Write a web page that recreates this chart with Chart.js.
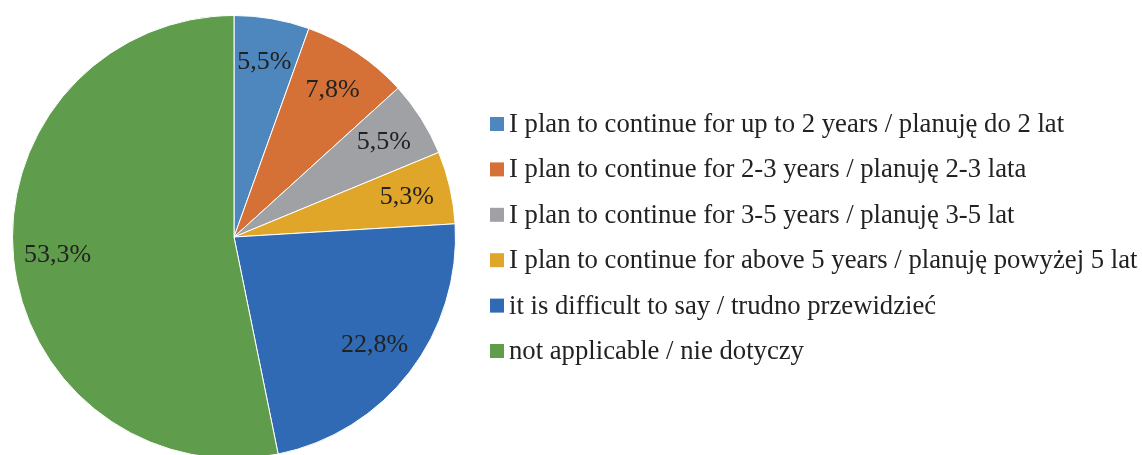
<!DOCTYPE html>
<html>
<head>
<meta charset="utf-8">
<script src="https://cdn.jsdelivr.net/npm/chart.js@4"></script>
<style>
  html, body { margin: 0; padding: 0; background: #fff; overflow: hidden; }
  #wrap { position: relative; width: 1142px; height: 455px; overflow: hidden; }
</style>
</head>
<body>
<div id="wrap">
  <canvas id="pieChart" width="1142" height="470"></canvas>
</div>
<script>
const categories = [
  'I plan to continue for up to 2 years / planuję do 2 lat',
  'I plan to continue for 2-3 years / planuję 2-3 lata',
  'I plan to continue for 3-5 years / planuję 3-5 lat',
  'I plan to continue for above 5 years / planuję powyżej 5 lat',
  'it is difficult to say / trudno przewidzieć',
  'not applicable / nie dotyczy'
];
const shares = [5.5, 7.8, 5.5, 5.3, 22.8, 53.3];
const colors = ['#4e86be', '#d57137', '#a0a1a5', '#e0a629', '#3069b4', '#5f9d4c'];

const FONT = '"Liberation Serif", "Times New Roman", serif';

// percentage labels inside slices
const sliceLabels = {
  id: 'sliceLabels',
  afterDatasetsDraw(chart) {
    const ctx = chart.ctx;
    const meta = chart.getDatasetMeta(0);
    ctx.save();
    ctx.font = '26px ' + FONT;
    ctx.fillStyle = '#222';
    ctx.textAlign = 'center';
    ctx.textBaseline = 'middle';
    meta.data.forEach((arc, i) => {
      const mid = (arc.startAngle + arc.endAngle) / 2;
      const r = arc.outerRadius * 0.8;
      const x = arc.x + Math.cos(mid) * r;
      const y = arc.y + Math.sin(mid) * r;
      ctx.fillText(shares[i].toFixed(1).replace('.', ',') + '%', x, y);
    });
    ctx.restore();
  }
};

// legend on the right side
const sideLegend = {
  id: 'sideLegend',
  afterDraw(chart) {
    const ctx = chart.ctx;
    ctx.save();
    ctx.font = '26.7px ' + FONT;
    ctx.textBaseline = 'middle';
    categories.forEach((label, i) => {
      const y = 124 + i * 45.4;
      ctx.fillStyle = colors[i];
      ctx.fillRect(490, y - 7, 14, 14);
      ctx.fillStyle = '#222';
      ctx.fillText(label, 509, y + 1);
    });
    ctx.restore();
  }
};

new Chart(document.getElementById('pieChart').getContext('2d'), {
  type: 'pie',
  data: {
    labels: categories,
    datasets: [{
      data: shares,
      backgroundColor: colors,
      borderColor: '#ffffff',
      borderWidth: 1
    }]
  },
  options: {
    responsive: false,
    animation: false,
    layout: { padding: { left: 12, top: 15, right: 686, bottom: 11 } },
    plugins: {
      legend: { display: false },
      tooltip: { enabled: false }
    }
  },
  plugins: [sliceLabels, sideLegend]
});
</script>
</body>
</html>
